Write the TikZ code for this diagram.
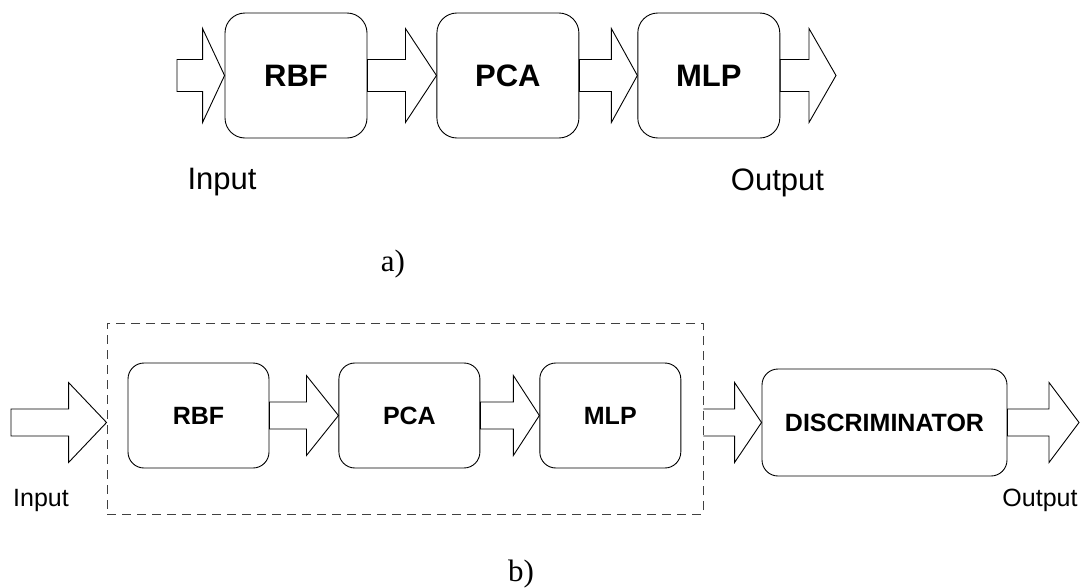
\documentclass[tikz,border=0pt]{standalone}
\usepackage{fontspec}
\setmainfont{Liberation Serif}
\setsansfont{Liberation Sans}
\usetikzlibrary{positioning,calc}
\definecolor{cLine}{HTML}{000000}
\definecolor{cDash}{HTML}{404040}
\tikzset{
  blk/.style    = {rectangle, rounded corners=20pt, draw=cLine, line width=0.9pt,
                   minimum width=142pt, minimum height=125pt, inner sep=0pt,
                   font=\sffamily\bfseries\fontsize{31}{36}\selectfont},
  blkb/.style   = {blk, rounded corners=16pt, minimum width=141pt, minimum height=105pt,
                   font=\sffamily\bfseries\fontsize{25}{30}\selectfont},
  grp/.style    = {rectangle, draw=cDash, line width=0.9pt, dash pattern=on 9pt off 6pt},
  lab/.style    = {font=\sffamily\fontsize{31}{36}\selectfont, anchor=base, inner sep=0pt},
  labb/.style   = {lab, font=\sffamily\fontsize{25}{30}\selectfont},
  sublab/.style = {font=\rmfamily\fontsize{31}{36}\selectfont, anchor=base, inner sep=0pt},
  fatopen/.style n args={3}{draw=cLine, line width=0.9pt, line join=miter,
                   to path={let \p1=(\tikztostart), \p2=(\tikztotarget) in
                   (\x1,\y1+#1) -- (\x2-#3,\y1+#1) -- (\x2-#3,\y1+#2) -- (\x2,\y1)
                   -- (\x2-#3,\y1-#2) -- (\x2-#3,\y1-#1) -- (\x1,\y1-#1)}},
  fat/.style n args={3}{draw=cLine, line width=0.9pt, line join=miter,
                   to path={let \p1=(\tikztostart), \p2=(\tikztotarget) in
                   (\x1,\y1+#1) -- (\x2-#3,\y1+#1) -- (\x2-#3,\y1+#2) -- (\x2,\y1)
                   -- (\x2-#3,\y1-#2) -- (\x2-#3,\y1-#1) -- (\x1,\y1-#1) -- cycle}},
  arra/.style   = {fat={16pt}{47pt}{#1}},
  arrb/.style   = {fat={13.5pt}{40pt}{#1}},
  arrbopen/.style = {fatopen={13.5pt}{40pt}{#1}},
}
\begin{document}
\begin{tikzpicture}[x=1pt,y=-1pt]
  \useasboundingbox (0,0) rectangle (1080,587);

  % a) plain chain
  \node[blk] (rbfa) at (296,75.5) {RBF};
  \node[blk, right=69pt of rbfa] (pcaa) {PCA};
  \node[blk, right=58pt of pcaa] (mlpa) {MLP};
  \coordinate (ina) at (177,75.5);
  \coordinate (outa) at (836,75.5);

  \draw[arra=22pt] (ina) to (rbfa.west);
  \draw[arra=31pt] (rbfa.east) to (pcaa.west);
  \draw[arra=26pt] (pcaa.east) to (mlpa.west);
  \draw[arra=27pt] (mlpa.east) to (outa);

  \node[lab] (inlaba) at (222,189) {Input};
  \node[lab] (outlaba) at (777.5,190) {Output};
  \node[sublab] (capa) at (393,271) {a)};

  % b) chain with discriminator
  \node[grp, minimum width=596pt, minimum height=191pt] (grpb) at (405,418.5) {};
  \node[blkb] (rbfb) at (198.5,415.5) {RBF};
  \node[blkb, right=69pt of rbfb] (pcab) {PCA};
  \node[blkb, right=59pt of pcab] (mlpb) {MLP};
  \node[blkb, minimum width=245pt, minimum height=107pt] (disc) at (884.5,422.5) {DISCRIMINATOR};
  \coordinate (inb) at (11,422.5);
  \coordinate (outb) at (1079,422.5);

  \draw[arrb=38pt] (inb) to (inb -| grpb.west);
  \draw[arrb=32pt] (rbfb.east) to (pcab.west);
  \draw[arrb=26pt] (pcab.east) to (mlpb.west);
  \draw[arrbopen=27pt] (disc -| grpb.east) to (disc.west);
  \draw[arrb=30pt] (disc.east) to (outb);

  \node[labb] (inlabb) at (41,506) {Input};
  \node[labb] (outlabb) at (1040,506) {Output};
  \node[sublab] (capb) at (521,581) {b)};
\end{tikzpicture}
\end{document}
